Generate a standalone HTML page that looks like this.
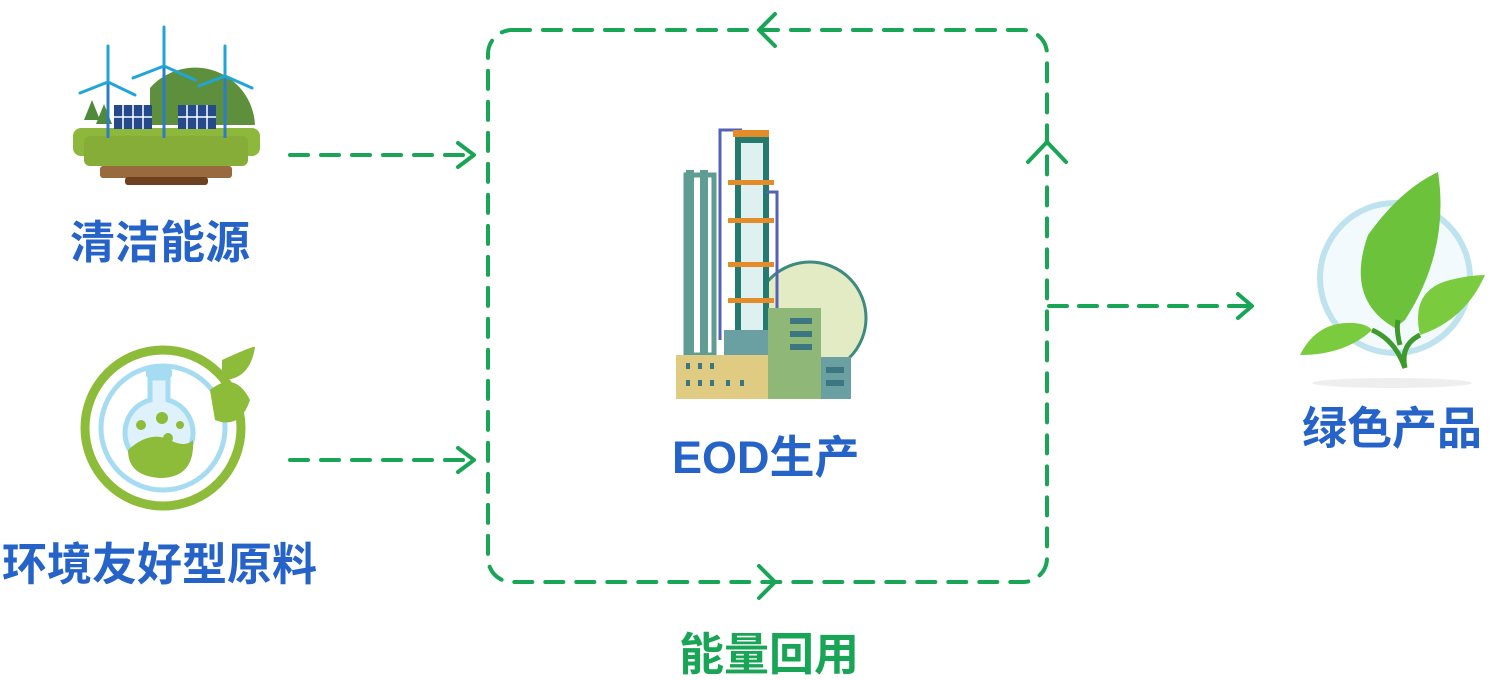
<!DOCTYPE html>
<html><head><meta charset="utf-8"><style>
html,body{margin:0;padding:0;background:#fff;}
body{width:1505px;height:676px;position:relative;overflow:hidden;font-family:"Liberation Sans","Noto Sans CJK SC",sans-serif;}
.t{position:absolute;font-weight:bold;font-size:45px;color:#2563c9;white-space:nowrap;line-height:1;}
</style></head><body>
<svg width="1505" height="676" style="position:absolute;left:0;top:0">
<g fill="none" stroke="#19a556" stroke-width="4" stroke-linecap="round" stroke-dasharray="18 13">
<rect x="488" y="30" width="559" height="552" rx="24"/>
<line x1="290" y1="155" x2="472" y2="155"/>
<line x1="290" y1="460" x2="472" y2="460"/>
<line x1="1049" y1="306" x2="1250" y2="306" stroke-dasharray="18 12"/>
</g>
<g fill="none" stroke="#19a556" stroke-width="4" stroke-linecap="round" stroke-linejoin="round">
<polyline points="458,143 474,155 458,167"/>
<polyline points="458,448 474,460 458,472"/>
<polyline points="1238,294 1252,306 1238,318"/>
<polyline points="775,14 759,30 775,46"/>
<polyline points="759,566 775,582 759,598"/>
<polyline points="1028,162 1047,142 1066,162"/>
</g>
<g>
<path d="M150 88 A60 60 0 0 1 255 125 L150 125Z" fill="#5e8f3c"/>
<rect x="73" y="128" width="187" height="28" rx="8" fill="#8db83b"/>
<rect x="84" y="136" width="164" height="30" rx="6" fill="#86ad38"/>
<rect x="100" y="166" width="132" height="12" rx="3" fill="#9a6a3f"/>
<rect x="125" y="177" width="83" height="8" rx="3" fill="#6d4020"/>
<rect x="114" y="105" width="38" height="24" fill="#244a8c"/>
<rect x="178" y="105" width="38" height="24" fill="#244a8c"/>
<g stroke="#fff" stroke-width="1.5"><line x1="123" y1="105" x2="123" y2="129"/><line x1="133" y1="105" x2="133" y2="129"/><line x1="143" y1="105" x2="143" y2="129"/><line x1="114" y1="117" x2="152" y2="117"/><line x1="187" y1="105" x2="187" y2="129"/><line x1="197" y1="105" x2="197" y2="129"/><line x1="207" y1="105" x2="207" y2="129"/><line x1="178" y1="117" x2="216" y2="117"/></g>
<path d="M92 100 l8 20 h-16z M104 104 l8 20 h-16z" fill="#4f8a3a"/>
<g stroke="#2f7cc6" stroke-width="3"><line x1="108" y1="82" x2="108" y2="138"/><line x1="164" y1="66" x2="164" y2="138"/><line x1="225" y1="76" x2="225" y2="138"/></g>
<g stroke="#20a6d6" stroke-width="3" stroke-linecap="round"><path d="M108 82 L108 46 M108 82 L80 93 M108 82 L135 95"/><path d="M164 66 L164 27 M164 66 L133 78 M164 66 L195 80"/><path d="M225 76 L225 46 M225 76 L199 86 M225 76 L252 88"/></g>
</g>
<g>
<circle cx="163" cy="428" r="78" fill="none" stroke="#8dbb3a" stroke-width="9"/>
<circle cx="163" cy="428" r="62" fill="none" stroke="#a6dcf2" stroke-width="5"/>
<path d="M222 360 Q255 345 255 347 Q250 380 222 380Z" fill="#8dbb3a"/>
<path d="M210 390 Q235 370 250 400 Q240 430 215 420Z" fill="#8dbb3a"/>
<rect x="146" y="368" width="26" height="10" rx="3" fill="#a6dcf2"/>
<path d="M150 378 h18 v22 a34 34 0 1 1 -18 0z" fill="#dff2fb" stroke="#a6dcf2" stroke-width="5"/>
<path d="M128 450 Q150 430 170 440 Q185 448 193 440 Q195 478 160 478 Q128 476 128 450Z" fill="#8dbb3a"/>
<circle cx="141" cy="425" r="5" fill="#8dbb3a"/><circle cx="162" cy="418" r="6" fill="#8dbb3a"/><circle cx="180" cy="425" r="4" fill="#8dbb3a"/><circle cx="168" cy="438" r="5" fill="#8dbb3a"/>
</g>
<g>
<circle cx="810" cy="318" r="56" fill="#e2ebc3" stroke="#3d8a7e" stroke-width="3"/>
<rect x="686" y="170" width="8" height="185" fill="#5f9c94"/><rect x="700" y="170" width="8" height="185" fill="#5f9c94"/>
<rect x="686" y="175" width="28" height="180" fill="none" stroke="#5f9c94" stroke-width="5"/>
<rect x="738" y="140" width="28" height="200" fill="#dff0f0" stroke="#257a6e" stroke-width="6"/>
<path d="M720 340 V130 H742" fill="none" stroke="#5561b6" stroke-width="3"/>
<path d="M777 340 V192 H766" fill="none" stroke="#5561b6" stroke-width="3"/>
<g fill="#e48b2a"><rect x="733" y="130" width="36" height="7"/><rect x="728" y="180" width="46" height="5"/><rect x="728" y="218" width="46" height="5"/><rect x="728" y="262" width="46" height="5"/><rect x="728" y="298" width="46" height="5"/></g>
<rect x="724" y="330" width="44" height="25" fill="#6aa0a2"/>
<rect x="676" y="355" width="92" height="44" fill="#dfcc82"/>
<rect x="768" y="308" width="53" height="91" fill="#8fb777"/>
<rect x="821" y="357" width="30" height="42" fill="#6aa0a2"/>
<g fill="#3c7680"><rect x="686" y="363" width="4" height="6"/><rect x="698" y="363" width="4" height="6"/><rect x="710" y="363" width="4" height="6"/><rect x="686" y="380" width="4" height="6"/><rect x="698" y="380" width="4" height="6"/><rect x="710" y="380" width="4" height="6"/><rect x="726" y="380" width="4" height="6"/><rect x="740" y="380" width="4" height="6"/><rect x="790" y="318" width="22" height="6"/><rect x="790" y="331" width="22" height="6"/><rect x="790" y="344" width="22" height="6"/><rect x="826" y="367" width="18" height="6"/><rect x="826" y="380" width="18" height="6"/></g>
</g>
<g>
<ellipse cx="1392" cy="383" rx="80" ry="5" fill="#eee"/>
<circle cx="1395" cy="278" r="75" fill="#f3fafd" stroke="#bfe2ef" stroke-width="6"/>
<path d="M1395 328 Q1345 300 1368 235 Q1400 190 1438 172 Q1450 250 1405 320Z" fill="#6cc23a"/>
<path d="M1420 335 Q1410 290 1450 280 Q1470 275 1485 275 Q1465 320 1420 335Z" fill="#7bcb3f"/>
<path d="M1300 355 Q1315 325 1345 323 Q1365 322 1372 330 Q1345 355 1300 355Z" fill="#7bcb3f"/>
<path d="M1372 330 Q1395 340 1405 368 M1405 368 Q1400 345 1420 335 M1400 345 Q1396 330 1398 320" stroke="#3e9a2c" stroke-width="5" fill="none"/>
</g>
</svg>
<div class="t" style="left:70px;top:220px;">清洁能源</div>
<div class="t" style="left:2px;top:542px;">环境友好型原料</div>
<div class="t" style="left:1302px;top:406px;">绿色产品</div>
<div class="t" style="left:672px;top:435px;">EOD生产</div>
<div class="t" style="left:679px;top:632px;color:#19a556;">能量回用</div>
</body></html>
